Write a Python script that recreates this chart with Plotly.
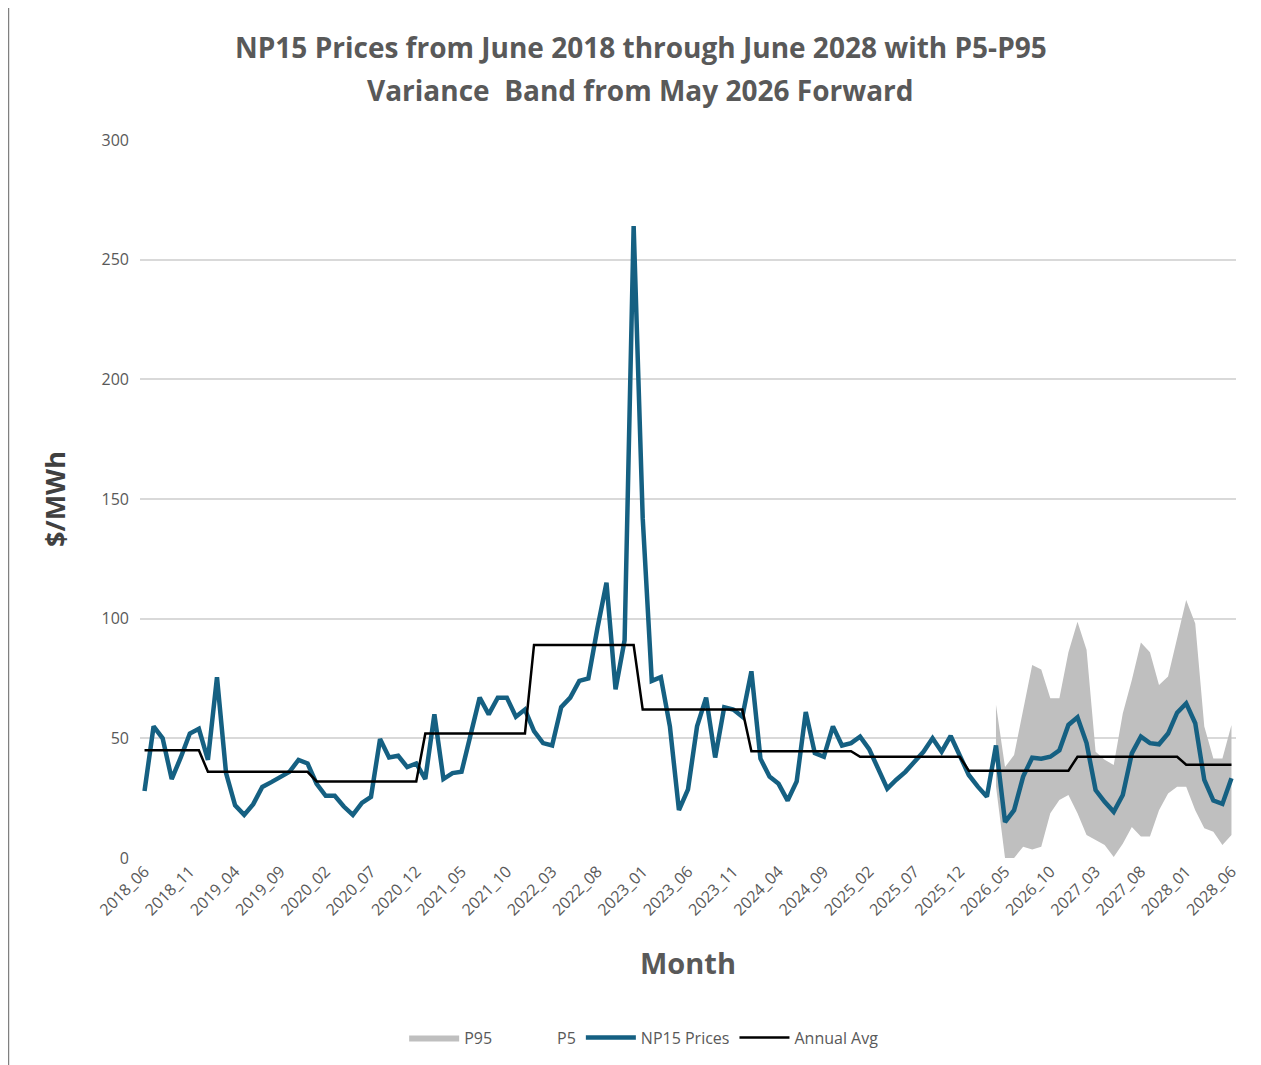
import plotly.graph_objects as go

# Month labels 2018_06 .. 2028_06
months = []
for y in range(2018, 2029):
    for m in range(1, 13):
        if (y == 2018 and m < 6) or (y == 2028 and m > 6):
            continue
        months.append(f"{y}_{m:02d}")

np15 = [28, 55, 50, 33, 42, 52, 54, 41, 75.5, 35.5,
        22, 18, 22.5, 29.7, 31.7, 34, 36, 41, 39.5, 31,
        26, 26, 21.5, 18, 23, 25.5, 49.7, 42, 42.7, 38,
        39.5, 33, 60, 33, 35.5, 36, 50.6, 67, 60, 67,
        67, 59, 62, 53, 48, 47, 63, 67, 74, 75,
        96, 115, 70.5, 91, 264, 142, 74, 75.6, 55, 20,
        28.7, 55, 67, 42, 63, 62, 59, 78, 41.5, 34,
        31, 24, 32, 61, 43.8, 42.3, 55, 47, 48, 50.7,
        45.5, 36.8, 29, 32.7, 36, 40.2, 44.4, 50, 44.4, 51,
        43, 34.7, 29.8, 25.6, 47, 15, 20, 34, 41.9, 41.5,
        42.3, 45, 55.6, 58.8, 48, 28.4, 23.5, 19.3, 26.3, 43.7,
        50.7, 48, 47.5, 52, 60.7, 64.6, 56.3, 32.6, 24, 22.6,
        33.3]

# Annual average by calendar year
annual = {2018: 45, 2019: 36, 2020: 32, 2021: 52, 2022: 89, 2023: 62,
          2024: 44.6, 2025: 42.3, 2026: 36.5, 2027: 42.3, 2028: 39}
annual_avg = [annual[int(m[:4])] for m in months]

# P5-P95 band from 2026_04 (index 94) onward
band_start = 94
p95_vals = [64, 38, 43, 62, 80.6, 78.8, 66.7, 66.7, 86, 98.7,
            87, 44.4, 41, 38.9, 60.4, 74.4, 90, 86, 72.3, 75.8,
            92.5, 107.8, 98, 54.9, 41.6, 41.6, 55.6]
p5_vals = [30, 0, 0, 4.7, 3.6, 4.7, 18.7, 24.2, 26.3, 18.7,
           9.6, 7.5, 5.4, 0.4, 6, 13, 9, 9, 20, 27,
           29.8, 29.8, 20, 12.4, 11, 5.4, 9.6]

x = list(range(len(months)))
xb = x[band_start:]

fig = go.Figure()

fig.add_trace(go.Scatter(x=xb, y=p5_vals, mode='lines', name='P5',
                         line=dict(width=0, color='rgba(255,255,255,0)'),
                         legendrank=2))
fig.add_trace(go.Scatter(x=xb, y=p95_vals, mode='lines', name='P95',
                         line=dict(width=0, color='#bfbfbf'),
                         fill='tonexty', fillcolor='#bfbfbf',
                         legendrank=1))
fig.add_trace(go.Scatter(x=x, y=np15, mode='lines', name='NP15 Prices',
                         line=dict(width=4.5, color='#156082'),
                         legendrank=3))
fig.add_trace(go.Scatter(x=x, y=annual_avg, mode='lines', name='Annual Avg',
                         line=dict(width=2.5, color='black'),
                         legendrank=4))

title_font = dict(family='Open Sans, sans-serif', size=28, color='#595959')
tick_idx = x[::5]
fig.update_layout(
    width=1261, height=1065,
    paper_bgcolor='white', plot_bgcolor='white',
    font=dict(family='Open Sans, Lato, sans-serif', color='#595959'),
    margin=dict(l=132, r=33, t=132, b=215),
    annotations=[
        dict(text='<b>NP15 Prices from June 2018 through June 2028 with P5-P95</b>',
             xref='paper', yref='paper', x=0.457, y=1.13, xanchor='center',
             yanchor='middle', showarrow=False, font=title_font),
        dict(text='<b>Variance  Band from May 2026 Forward</b>',
             xref='paper', yref='paper', x=0.457, y=1.07, xanchor='center',
             yanchor='middle', showarrow=False, font=title_font),
    ],
    xaxis=dict(range=[-0.5, 120.5], tickmode='array', tickvals=tick_idx,
               ticktext=[months[i] for i in tick_idx], tickangle=-45,
               tickfont=dict(size=16, color='#595959'), showgrid=False,
               zeroline=False, showline=False,
               title=dict(text='<b>Month</b>', font=dict(size=29, color='#595959'),
                          standoff=34)),
    yaxis=dict(range=[0, 300], dtick=50, showgrid=True, gridcolor='#d9d9d9',
               gridwidth=1.5, zeroline=False, tickfont=dict(size=16, color='#595959'),
               ticklabelstandoff=10,
               title=dict(text='<b>$/MWh</b>', font=dict(size=27, color='#404040'),
                          standoff=28)),
    legend=dict(orientation='h', traceorder='normal', x=0.46, xanchor='center',
                y=-0.25, yanchor='middle', itemwidth=50,
                font=dict(size=16, color='#595959')),
    showlegend=True,
    shapes=[dict(type='rect', xref='paper', yref='paper',
                 x0=-0.12, x1=1.03, y0=-0.3, y1=1.185,
                 line=dict(color='#808080', width=1.5))],
)

fig.write_html("out.html")
